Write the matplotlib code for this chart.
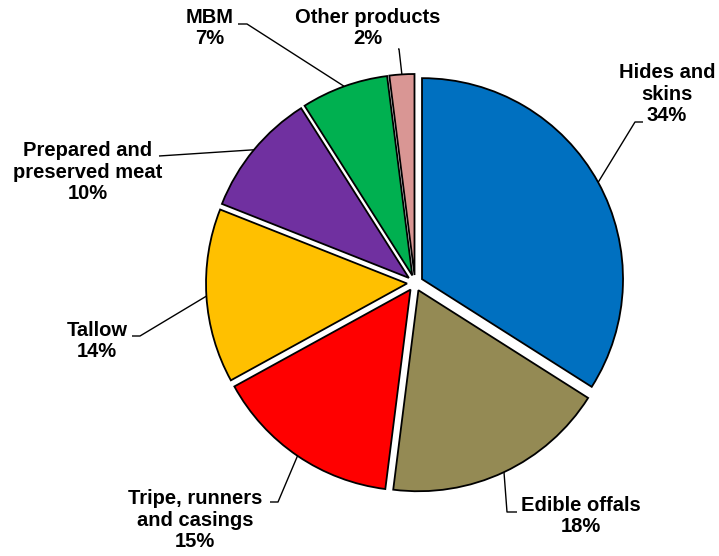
import numpy as np
import matplotlib
matplotlib.use("Agg")
import matplotlib.pyplot as plt

categories = ["Hides and\nskins", "Edible offals", "Tripe, runners\nand casings",
              "Tallow", "Prepared and\npreserved meat", "MBM", "Other products"]
shares = [34, 18, 15, 14, 10, 7, 2]
colors = ["#0070C0", "#948A54", "#FF0000", "#FFC000", "#7030A0", "#00B050", "#D99694"]

W, H = 719, 556
fig = plt.figure(figsize=(W / 100, H / 100), dpi=100)
ax = fig.add_axes([0, 0, 1, 1])

cx, cy, r, gap = 415, H - 283, 201, 8
wedges, _ = ax.pie(shares, colors=colors, startangle=90, counterclock=False,
                   center=(cx, cy), radius=r, explode=[gap] * len(shares),
                   wedgeprops=dict(edgecolor="black", linewidth=1.3), frame=True)
ax.set_xlim(0, W)
ax.set_ylim(0, H)
ax.set_aspect("equal")
ax.axis("off")

# label layout (pixel coords from top-left): text centre, elbow, line end
label_pos = [
    ((667, 94), (635, 122), (643, 122)),
    ((581, 516), (507, 512), (517, 512)),
    ((195, 520), (278, 502), (270, 502)),
    ((97, 341), (140, 336), (132, 336)),
    ((88, 172), (159, 156), (159, 156)),
    ((210, 28), (247, 24), (238, 24)),
    ((368, 28), (399, 49), (398, 49)),
]

for w, name, val, (txt, elbow, end) in zip(wedges, categories, shares, label_pos):
    mid = np.deg2rad((w.theta1 + w.theta2) / 2)
    x0, y0 = w.center
    sx = x0 + w.r * np.cos(mid)
    sy = y0 + w.r * np.sin(mid)
    ax.plot([sx, elbow[0], end[0]], [sy, H - elbow[1], H - end[1]],
            color="black", lw=1.0, solid_capstyle="butt")
    ax.text(txt[0], H - txt[1], f"{name}\n{val}%", ha="center", va="center",
            fontsize=14.5, fontweight="bold", family="Liberation Sans",
            linespacing=1.15)

fig.savefig("out.png", dpi=100)
